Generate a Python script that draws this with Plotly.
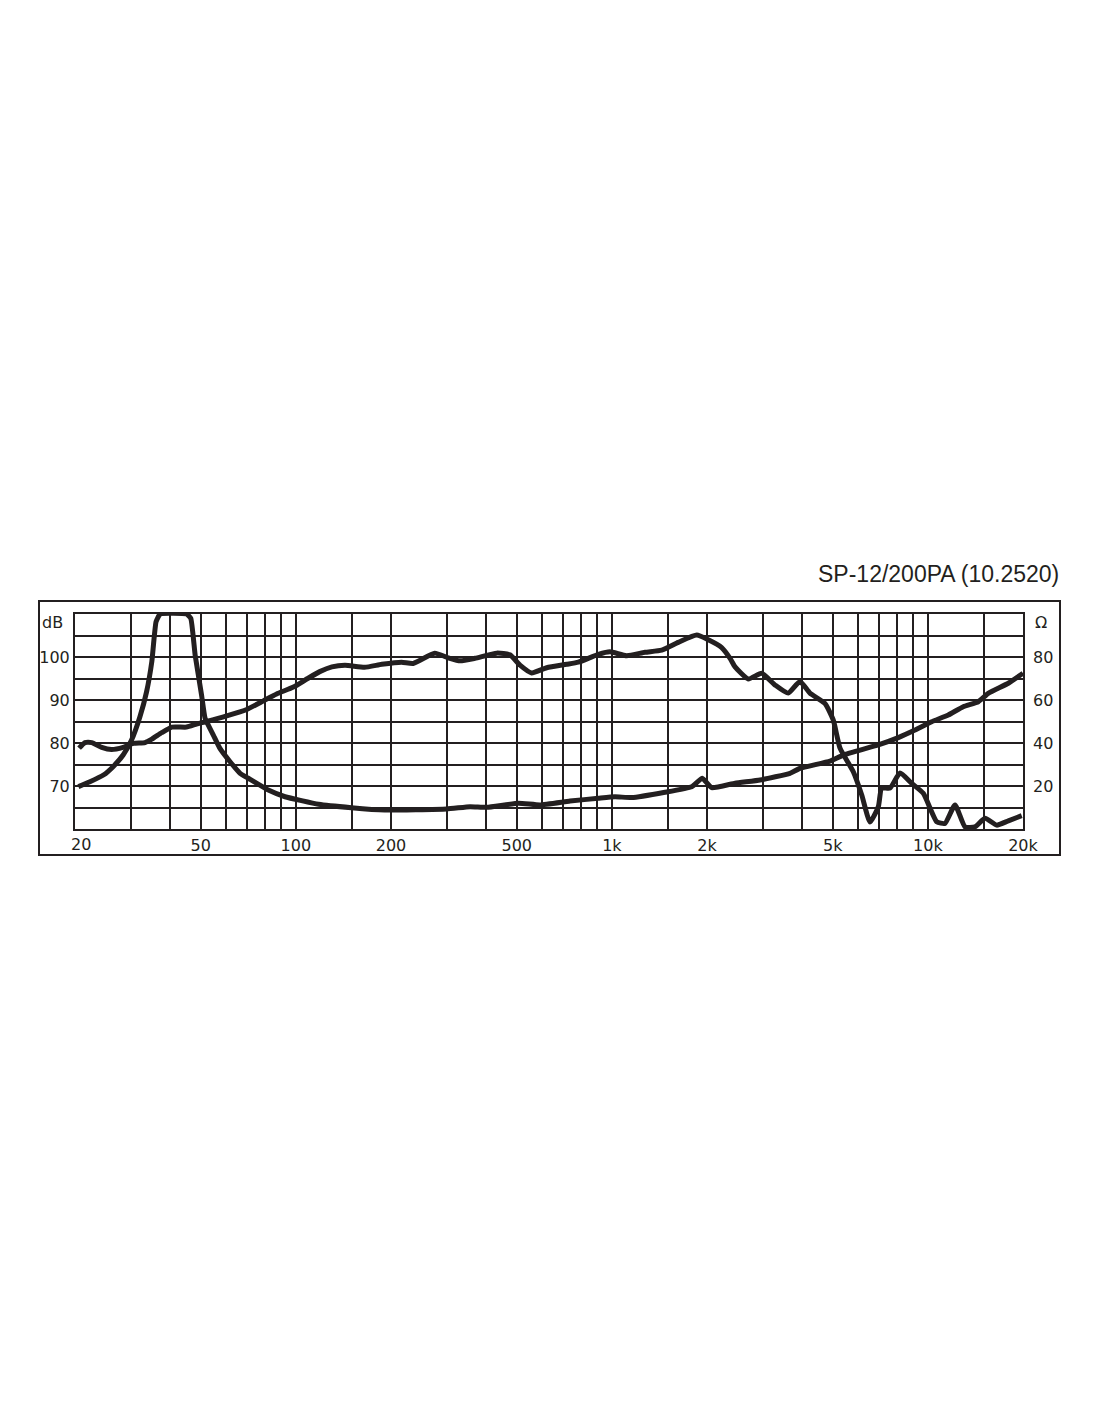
import plotly.graph_objects as go

# Frequency response (SPL, dB, left axis)
spl_freq = [20.6, 21.5, 22.6, 24.3, 26.1, 28.4, 30.6, 33.3, 35.0, 37.6, 40.5, 45.1, 48.5, 52.2,
            60.4, 69.9, 78.9, 86.9, 98.2, 109, 119, 130, 143, 165, 187, 216, 235, 275, 304, 331,
            369, 432, 476, 512, 557, 622, 719, 783, 906, 986, 1114, 1273, 1438, 1622, 1856,
            2019, 2226, 2366, 2454, 2702, 2979, 3281, 3614, 3936, 4234, 4723, 5020, 5272, 5808,
            6176, 6561, 6970, 7142, 7586, 8162, 8890, 9672, 10666, 11324, 12188, 13106, 14094,
            15166, 16514, 17970, 19812]
spl_db = [78.8, 80.1, 80.1, 79.0, 78.5, 79.0, 79.9, 80.1, 80.9, 82.4, 83.7, 83.7, 84.4, 85.0,
          86.3, 87.8, 89.8, 91.4, 93.0, 95.0, 96.6, 97.7, 98.1, 97.6, 98.3, 98.8, 98.5, 100.9,
          99.8, 99.1, 99.7, 100.9, 100.5, 98.1, 96.3, 97.5, 98.3, 98.8, 100.6, 101.2, 100.3,
          101.1, 101.6, 103.4, 105.1, 104.0, 102.2, 99.7, 97.7, 94.9, 96.2, 93.5, 91.6, 94.3,
          91.6, 89.2, 85.3, 78.8, 73.3, 67.9, 61.6, 65.2, 69.5, 69.5, 73.0, 70.6, 68.3, 61.7,
          61.3, 65.6, 60.5, 60.5, 62.5, 60.9, 61.9, 63.1]

# Impedance (Ohm, right axis)
imp_freq = [20.5, 22.3, 24.6, 26.4, 28.4, 30.2, 32.1, 33.7, 35.0, 36.1, 37.2, 45.1, 46.5, 48.0,
            50.3, 51.6, 54.8, 57.5, 61.9, 66.6, 70.7, 81.8, 92.4, 118, 150, 191, 300, 356, 402,
            506, 592, 737, 906, 1023, 1156, 1472, 1789, 1933, 2070, 2454, 2944, 3662, 3936,
            4902, 5400, 6970, 8060, 9102, 10280, 11600, 12942, 14442, 15524, 17970, 20000]
imp_ohm = [19.7, 22.0, 25.1, 29.0, 34.4, 41.4, 52.2, 63.9, 77.8, 96.4, 100, 100, 98.0, 80.9,
           62.3, 51.5, 43.7, 37.5, 31.3, 25.9, 23.6, 18.1, 15.0, 11.5, 9.9, 8.8, 9.3, 10.4, 10.1,
           12.0, 11.2, 13.0, 14.3, 15.0, 14.6, 17.1, 19.7, 23.6, 19.2, 21.3, 22.8, 25.9, 28.2,
           31.6, 34.4, 39.1, 42.5, 46.0, 49.9, 53.0, 56.9, 59.2, 63.1, 67.8, 72.4]

# Axis grid / labels
x_grid = [20, 30, 40, 50, 60, 70, 80, 90, 100, 150, 200, 300, 400, 500, 600, 700, 800, 900,
          1000, 1500, 2000, 3000, 4000, 5000, 6000, 7000, 8000, 9000, 10000, 15000, 20000]
x_labels = {50: "50", 100: "100", 200: "200", 500: "500", 1000: "1k", 2000: "2k",
            5000: "5k", 10000: "10k", 20000: "20k"}
first_x_label = "20"
db_ticks = [60, 65, 70, 75, 80, 85, 90, 95, 100, 105, 110]
db_labels = {70: "70", 80: "80", 90: "90", 100: "100"}
ohm_ticks = [20, 40, 60, 80]
title_text = "SP-12/200PA (10.2520)"

INK = "#231f20"
tick_font = dict(family="DejaVu Sans", size=16, color=INK)

fig = go.Figure()
fig.add_trace(go.Scatter(x=spl_freq, y=spl_db, mode="lines", yaxis="y",
                         line=dict(color=INK, width=5, shape="spline", smoothing=0.5),
                         showlegend=False, hoverinfo="skip"))
fig.add_trace(go.Scatter(x=imp_freq, y=imp_ohm, mode="lines", yaxis="y2",
                         line=dict(color=INK, width=5, shape="spline", smoothing=0.4),
                         showlegend=False, hoverinfo="skip"))

OFF = 8  # page body margin
L, R, T, B = 75 - OFF, 1023 - OFF, 614 - OFF, 829 - OFF
W, H = 1100 - 2 * OFF, 1422 - 2 * OFF

def px(xp):
    return (xp - OFF - L) / (R - L)

def py(yp):
    return (B - (yp - OFF)) / (B - T)

fig.update_layout(
    width=W, height=H, autosize=False,
    margin=dict(l=L, r=W - R, t=T, b=H - B, pad=0),
    paper_bgcolor="white", plot_bgcolor="white",
    xaxis=dict(type="log", range=[1.30103, 4.30103], tickmode="array",
               tickvals=x_grid, ticktext=[x_labels.get(v, "") for v in x_grid],
               showgrid=True, gridcolor=INK, gridwidth=2,
               showline=True, linecolor=INK, linewidth=2, mirror=True,
               ticks="", tickfont=tick_font, zeroline=False, ticklabelstandoff=1),
    yaxis=dict(range=[60, 110], tickmode="array", tickvals=db_ticks,
               ticktext=[db_labels.get(v, "") for v in db_ticks],
               showgrid=True, gridcolor=INK, gridwidth=2,
               showline=True, linecolor=INK, linewidth=2, mirror=True,
               ticks="", tickfont=tick_font, zeroline=False, ticklabelstandoff=0),
    yaxis2=dict(range=[0, 100], overlaying="y", side="right", tickmode="array",
                tickvals=ohm_ticks, ticktext=[str(v) for v in ohm_ticks],
                showgrid=False, zeroline=False, showline=False, ticks="",
                tickfont=tick_font, ticklabelstandoff=9),
    shapes=[dict(type="rect", xref="paper", yref="paper",
                 x0=px(39), x1=px(1060), y0=py(855), y1=py(601),
                 line=dict(color=INK, width=2), layer="below")],
    annotations=[
        dict(text=title_text, xref="paper", yref="paper", x=px(1061), y=py(574),
             xanchor="right", yanchor="middle", showarrow=False,
             font=dict(family="Liberation Sans", size=23, color=INK)),
        dict(text="dB", xref="paper", yref="paper", x=px(65), y=py(622),
             xanchor="right", yanchor="middle", showarrow=False, font=tick_font),
        dict(text="Ω", xref="paper", yref="paper", x=px(1033), y=py(622),
             xanchor="left", yanchor="middle", showarrow=False, font=tick_font),
        dict(text=first_x_label, xref="paper", yref="paper", x=px(81), y=py(844),
             xanchor="center", yanchor="middle", showarrow=False, font=tick_font),
    ],
)

fig.write_html("out.html")
